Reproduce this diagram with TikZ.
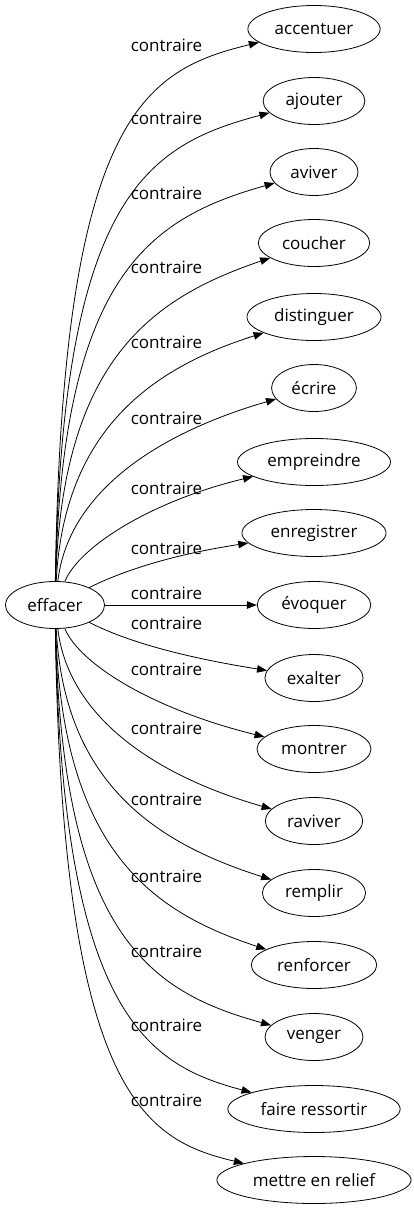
\documentclass[tikz,border=0pt]{standalone}
\usepackage{fontspec}
\setmainfont{Open Sans}
\usepackage{tikz}
\usetikzlibrary{arrows.meta,positioning,shapes.geometric}

\begin{document}
\begin{tikzpicture}[x=1pt,y=-1pt,
mot/.style={draw=black,ellipse,line width=0.8pt,minimum height=47pt,inner xsep=7.5pt,font=\fontsize{17}{20}\selectfont},
arr/.style={line width=0.8pt,-{Triangle[length=10pt,width=7.5pt]}},
lab/.style={font=\fontsize{17}{20}\selectfont,inner sep=0pt}
]
\useasboundingbox (0,0) rectangle (413,1211);
\node[mot] (effacer) at (55,605) {effacer};
\node[mot] (accentuer) at (314,29) {accentuer};
\node[mot] (ajouter) at (314,101) {ajouter};
\node[mot] (aviver) at (314,172) {aviver};
\node[mot] (coucher) at (314,243) {coucher};
\node[mot] (distinguer) at (314,317) {distinguer};
\node[mot] (ecrire) at (314,388) {écrire};
\node[mot] (empreindre) at (314,462) {empreindre};
\node[mot] (enregistrer) at (314,533) {enregistrer};
\node[mot] (evoquer) at (314,605) {évoquer};
\node[mot] (exalter) at (314,678) {exalter};
\node[mot] (montrer) at (314,749) {montrer};
\node[mot] (raviver) at (314,821) {raviver};
\node[mot] (remplir) at (314,893) {remplir};
\node[mot] (renforcer) at (314,965) {renforcer};
\node[mot] (venger) at (314,1037) {venger};
\node[mot] (faire) at (314,1109) {faire ressortir};
\node[mot] (relief) at (314,1180) {mettre en relief};
% vers le haut
\draw[arr] (effacer) .. controls (62,115) and (145,70) .. (accentuer);
\draw[arr] (effacer) .. controls (62,195) and (148,145) .. (ajouter);
\draw[arr] (effacer) .. controls (62,275) and (150,218) .. (aviver);
\draw[arr] (effacer) .. controls (62,360) and (152,298) .. (coucher);
\draw[arr] (effacer) .. controls (64,430) and (152,368) .. (distinguer);
\draw[arr] (effacer) .. controls (68,495) and (152,435) .. (ecrire);
\draw[arr] (effacer) .. controls (80,545) and (155,500) .. (empreindre);
\draw[arr] (effacer) .. controls (120,572) and (170,555) .. (enregistrer);
\draw[arr] (effacer) -- (evoquer);
% vers le bas
\draw[arr] (effacer) .. controls (120,638) and (170,655) .. (exalter);
\draw[arr] (effacer) .. controls (80,665) and (155,710) .. (montrer);
\draw[arr] (effacer) .. controls (68,715) and (152,775) .. (raviver);
\draw[arr] (effacer) .. controls (64,780) and (152,842) .. (remplir);
\draw[arr] (effacer) .. controls (62,850) and (152,912) .. (renforcer);
\draw[arr] (effacer) .. controls (62,935) and (150,992) .. (venger);
\draw[arr] (effacer) .. controls (62,1015) and (148,1065) .. (faire);
\draw[arr] (effacer) .. controls (62,1095) and (145,1140) .. (relief);
% etiquettes
\node[lab] (k1) at (166.5,45) {contraire};
\node[lab] (k2) at (166.5,118) {contraire};
\node[lab] (k3) at (166.5,193) {contraire};
\node[lab] (k4) at (166.5,267) {contraire};
\node[lab] (k5) at (166.5,342) {contraire};
\node[lab] (k6) at (166.5,418) {contraire};
\node[lab] (k7) at (166.5,488) {contraire};
\node[lab] (k8) at (166.5,548) {contraire};
\node[lab] (k9) at (166.5,593) {contraire};
\node[lab] (k10) at (166.5,623) {contraire};
\node[lab] (k11) at (166.5,669) {contraire};
\node[lab] (k12) at (166.5,728) {contraire};
\node[lab] (k13) at (166.5,799) {contraire};
\node[lab] (k14) at (166.5,876) {contraire};
\node[lab] (k15) at (166.5,951) {contraire};
\node[lab] (k16) at (166.5,1025) {contraire};
\node[lab] (k17) at (166.5,1100) {contraire};
\end{tikzpicture}
\end{document}
